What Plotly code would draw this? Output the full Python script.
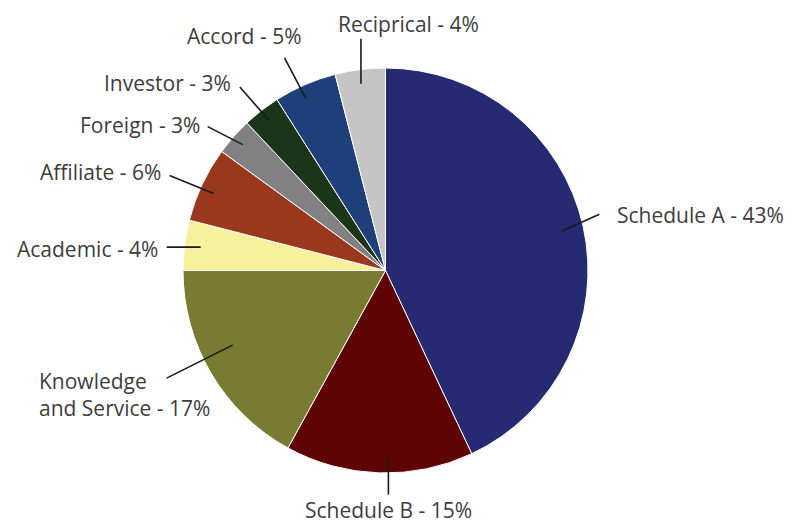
import math
import plotly.graph_objects as go

# ---- data ----
labels = ["Schedule A", "Schedule B", "Knowledge<br>and Service", "Academic",
          "Affiliate", "Foreign", "Investor", "Accord", "Reciprical"]
values = [43, 15, 17, 4, 6, 3, 3, 5, 4]
colors = ["#262a72", "#5e0404", "#7a7b33", "#f7f09a", "#9a381e",
          "#818181", "#1b3518", "#1f3f7a", "#c5c5c5"]

# ---- layout / style ----
W, H = 792, 527
OFF = 8                               # page body margin
CX, CY, R = 385.5 - OFF, 270.5 - OFF, 202.5   # pie centre / radius in figure pixels

# per label: fraction within slice for leader start, radius fraction,
# leader vector (px), text offset from leader end (px), xanchor
label_style = [
    dict(frac=0.50, rf=0.89, lv=(38, -17),  to=(16, 1),   xa="left"),
    dict(frac=0.45, rf=0.91, lv=(0, 40),    to=(0, 15),   xa="center"),
    dict(frac=0.575, rf=0.84, lv=(-66, 33), to=(45, 16),  xa="right"),
    dict(frac=0.50, rf=0.92, lv=(-34, 0),   to=(-7, 2),   xa="right"),
    dict(frac=0.45, rf=0.93, lv=(-44, -18), to=(-7, -4),  xa="right"),
    dict(frac=0.50, rf=0.94, lv=(-35, -18), to=(-6, -2),  xa="right"),
    dict(frac=0.50, rf=0.94, lv=(-29, -33), to=(-7, -4),  xa="right"),
    dict(frac=0.42, rf=0.94, lv=(-21, -40), to=(19, -22), xa="right"),
    dict(frac=0.48, rf=0.93, lv=(0, -45),   to=(-25, -15), xa="left"),
]

FONT = dict(family="Open Sans, Noto Sans, sans-serif", size=21, color="#3d3d3d")


def px2paper(x, y):
    return x / W, 1 - y / H


fig = go.Figure(go.Pie(
    labels=labels, values=values, sort=False, direction="clockwise", rotation=0,
    marker=dict(colors=colors, line=dict(color="white", width=1)),
    textinfo="none", showlegend=False, hoverinfo="label+percent",
    domain=dict(x=[(CX - R) / W, (CX + R) / W], y=[(H - CY - R) / H, (H - CY + R) / H]),
))

total = sum(values)
cum = 0
shapes, annotations = [], []
for lab, v, st in zip(labels, values, label_style):
    a0 = cum / total * 2 * math.pi
    a1 = (cum + v) / total * 2 * math.pi
    cum += v
    th = a0 + (a1 - a0) * st["frac"]
    sx = CX + st["rf"] * R * math.sin(th)
    sy = CY - st["rf"] * R * math.cos(th)
    ex, ey = sx + st["lv"][0], sy + st["lv"][1]
    x0, y0 = px2paper(sx, sy)
    x1, y1 = px2paper(ex, ey)
    shapes.append(dict(type="line", xref="paper", yref="paper", x0=x0, y0=y0, x1=x1, y1=y1,
                       line=dict(color="#1a1a1a", width=1.6)))
    tx, ty = px2paper(ex + st["to"][0], ey + st["to"][1])
    annotations.append(dict(text=f"{lab} - {v}%", x=tx, y=ty, xref="paper", yref="paper",
                            xanchor=st["xa"], yanchor="middle", showarrow=False,
                            align="left", font=FONT))

fig.update_layout(
    width=W, height=H, margin=dict(l=0, r=0, t=0, b=0),
    paper_bgcolor="white", plot_bgcolor="white",
    shapes=shapes, annotations=annotations,
)
fig.write_html("out.html")
